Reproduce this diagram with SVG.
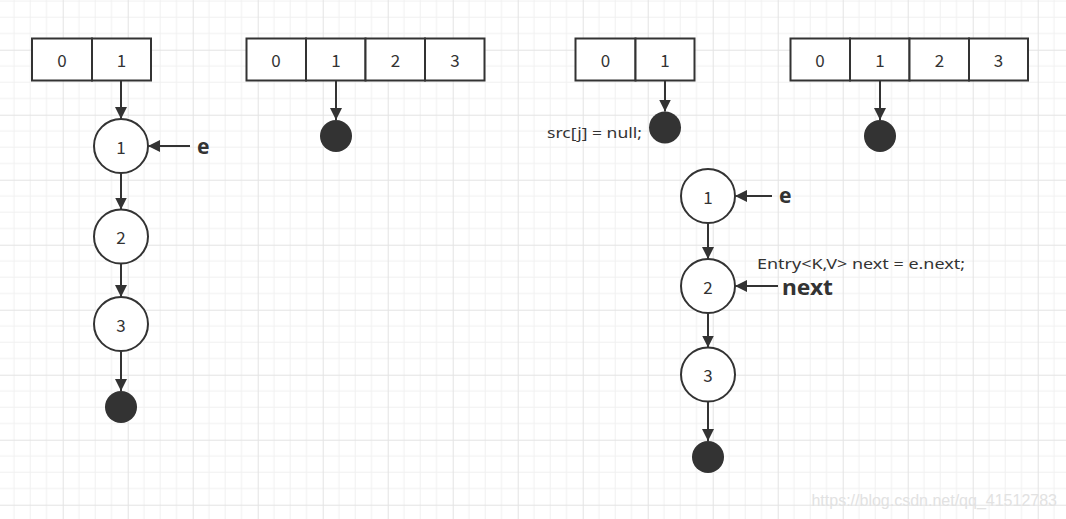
<svg xmlns="http://www.w3.org/2000/svg" width="1066" height="519" viewBox="0 0 1066 519">
<style>
.cell{fill:#fff;stroke:#333;stroke-width:2}
.node{fill:#fff;stroke:#333;stroke-width:2}
.dot{fill:#333;stroke:none}
.lbl{font-family:"Noto Sans CJK SC","Liberation Sans",sans-serif;font-size:17px;fill:#333;text-anchor:middle;dominant-baseline:central}
.bold{font-family:"Noto Sans","Liberation Sans",sans-serif;font-size:21px;font-weight:bold;fill:#333}
.code{font-family:"Noto Sans","Liberation Sans",sans-serif;font-size:15px;fill:#333}
.edge{stroke:#333;stroke-width:2;fill:none;marker-end:url(#ah)}
</style>
<defs>
<pattern id="grid" patternUnits="userSpaceOnUse" x="62.7" y="49.7" width="65" height="65">
<path d="M16.25 0V65M32.5 0V65M48.75 0V65M0 16.25H65M0 32.5H65M0 48.75H65" stroke="#f0f0f0" stroke-width="1" fill="none"/>
<path d="M0.5 0V65M0 0.5H65" stroke="#e3e3e3" stroke-width="1" fill="none"/>
</pattern>
<marker id="ah" viewBox="0 0 10 10" refX="10" refY="5" markerWidth="6" markerHeight="6" orient="auto" markerUnits="strokeWidth">
<path d="M0 0L10 5L0 10Z" fill="#333"/>
</marker>
</defs>
<rect width="1066" height="519" fill="#fff"/>
<rect width="1066" height="519" fill="url(#grid)"/>

<g id="arrayA">
<rect class="cell" x="32" y="38.5" width="60" height="42"/>
<rect class="cell" x="92" y="38.5" width="59" height="42"/>
<text class="lbl" x="62" y="59.5">0</text>
<text class="lbl" x="121.5" y="59.5">1</text>
</g>
<g id="arrayB">
<rect class="cell" x="246.5" y="38.5" width="59.5" height="42"/>
<rect class="cell" x="306" y="38.5" width="59.5" height="42"/>
<rect class="cell" x="365.5" y="38.5" width="59.5" height="42"/>
<rect class="cell" x="425" y="38.5" width="59.5" height="42"/>
<text class="lbl" x="276" y="59.5">0</text>
<text class="lbl" x="336" y="59.5">1</text>
<text class="lbl" x="395.5" y="59.5">2</text>
<text class="lbl" x="455" y="59.5">3</text>
</g>
<g id="arrayC">
<rect class="cell" x="575.5" y="38.5" width="60" height="42"/>
<rect class="cell" x="635.5" y="38.5" width="59" height="42"/>
<text class="lbl" x="605.5" y="59.5">0</text>
<text class="lbl" x="665" y="59.5">1</text>
</g>
<g id="arrayD">
<rect class="cell" x="790.5" y="38.5" width="59.5" height="42"/>
<rect class="cell" x="850" y="38.5" width="59.5" height="42"/>
<rect class="cell" x="909.5" y="38.5" width="59.5" height="42"/>
<rect class="cell" x="969" y="38.5" width="59" height="42"/>
<text class="lbl" x="820" y="59.5">0</text>
<text class="lbl" x="880" y="59.5">1</text>
<text class="lbl" x="939.5" y="59.5">2</text>
<text class="lbl" x="998.5" y="59.5">3</text>
</g>

<g id="nA1"><circle class="node" cx="121" cy="146" r="27"/><text class="lbl" x="121" y="146">1</text></g>
<g id="nA2"><circle class="node" cx="121" cy="236.5" r="27"/><text class="lbl" x="121" y="236.5">2</text></g>
<g id="nA3"><circle class="node" cx="121" cy="324" r="27"/><text class="lbl" x="121" y="324">3</text></g>
<g id="nullA"><circle class="dot" cx="121" cy="407" r="16"/></g>
<g id="nullB"><circle class="dot" cx="336" cy="136" r="16"/></g>
<g id="nullC"><circle class="dot" cx="665" cy="127.5" r="16"/></g>
<g id="nullD"><circle class="dot" cx="880" cy="136" r="16"/></g>
<g id="nB1"><circle class="node" cx="708" cy="196" r="27"/><text class="lbl" x="708" y="196">1</text></g>
<g id="nB2"><circle class="node" cx="708" cy="286" r="27"/><text class="lbl" x="708" y="286">2</text></g>
<g id="nB3"><circle class="node" cx="708" cy="374.5" r="27"/><text class="lbl" x="708" y="374.5">3</text></g>
<g id="nullE"><circle class="dot" cx="708" cy="457" r="16"/></g>

<g id="labels">
<text class="bold" x="197" y="154">e</text>
<text class="bold" x="779" y="203">e</text>
<text class="bold" x="782" y="295" textLength="51" lengthAdjust="spacingAndGlyphs">next</text>
<text class="code" x="757" y="269" textLength="208" lengthAdjust="spacingAndGlyphs">Entry&lt;K,V&gt; next = e.next;</text>
<text class="code" x="547" y="138" textLength="95" lengthAdjust="spacingAndGlyphs">src[j] = null;</text>
<text x="1057" y="506" text-anchor="end" font-family="'Liberation Sans',sans-serif" font-size="16" fill="#e2e2e2">https://blog.csdn.net/qq_41512783</text>
</g>

<g id="connectors">
<path class="edge" d="M121 80.5V119"/>
<path class="edge" d="M121 173V209.5"/>
<path class="edge" d="M121 263.5V297"/>
<path class="edge" d="M121 351V391"/>
<path class="edge" d="M190 146H148"/>
<path class="edge" d="M336 80.5V120"/>
<path class="edge" d="M665 80.5V111.5"/>
<path class="edge" d="M880 80.5V120"/>
<path class="edge" d="M708 223V259"/>
<path class="edge" d="M708 313V347.5"/>
<path class="edge" d="M708 401.5V441"/>
<path class="edge" d="M772 196H735"/>
<path class="edge" d="M778 286H735"/>
</g>
</svg>
